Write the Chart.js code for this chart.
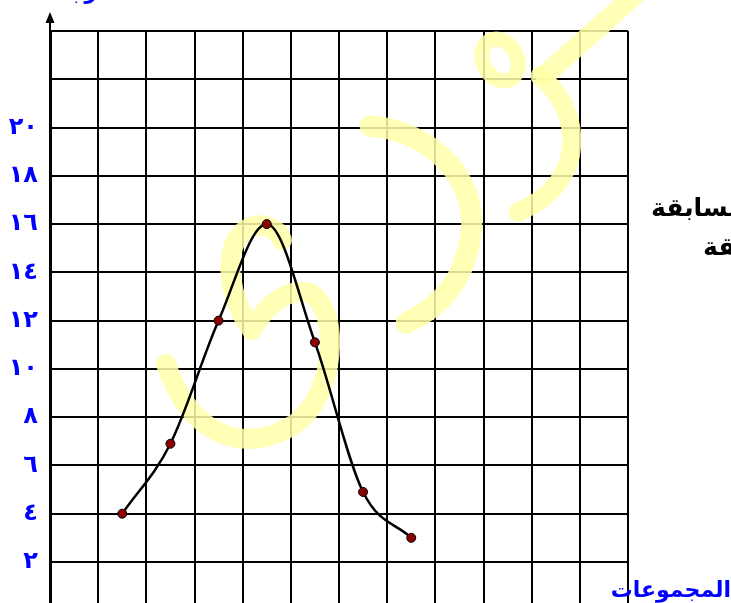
<!DOCTYPE html>
<html lang="ar">
<head>
<meta charset="utf-8">
<script src="https://cdn.jsdelivr.net/npm/chart.js@4"></script>
<style>
  html, body { margin: 0; padding: 0; background: #fff; overflow: hidden; }
  #wrap { width: 731px; height: 603px; }
</style>
</head>
<body>
<div id="wrap"><canvas id="chart" width="731" height="603"></canvas></div>
<script>
// data
const groupPos = [1.5, 2.5, 3.5, 4.5, 5.5, 6.5, 7.5];
const groupValues = [4, 6.9, 12, 16, 11.1, 4.9, 3];
const yTicks = [2, 4, 6, 8, 10, 12, 14, 16, 18, 20, 22, 24];
const yLabels = ["٢", "٤", "٦", "٨", "١٠", "١٢", "١٤", "١٦", "١٨", "٢٠", "", ""];
const xLines = [0, 1, 2, 3, 4, 5, 6, 7, 8, 9, 10, 11, 12];

const blue = "#0000ff";

// pale yellow watermark, over the grid but under the line
const watermark = {
  id: "watermark",
  beforeDatasetsDraw(chart) {
    const ctx = chart.ctx;
    ctx.save();
    ctx.strokeStyle = "rgba(255,255,168,0.85)";
    ctx.lineCap = "round";
    ctx.lineJoin = "round";

    ctx.lineWidth = 20;
    ctx.beginPath();
    ctx.moveTo(166, 364);
    ctx.bezierCurveTo(188, 432, 242, 458, 295, 424);
    ctx.bezierCurveTo(335, 395, 342, 312, 310, 293);
    ctx.bezierCurveTo(282, 285, 258, 318, 252, 330);
    ctx.bezierCurveTo(230, 300, 220, 250, 245, 230);
    ctx.bezierCurveTo(262, 220, 278, 228, 282, 240);
    ctx.stroke();

    ctx.lineWidth = 21;
    ctx.beginPath();
    ctx.moveTo(370, 126);
    ctx.bezierCurveTo(430, 130, 482, 180, 470, 240);
    ctx.bezierCurveTo(462, 290, 430, 312, 406, 323);
    ctx.stroke();

    ctx.lineWidth = 20;
    ctx.beginPath();
    ctx.moveTo(636, -6);
    ctx.lineTo(545, 75);
    ctx.stroke();

    ctx.lineWidth = 15;
    ctx.beginPath();
    ctx.ellipse(500, 60, 17, 22, -0.5, 0, Math.PI * 2);
    ctx.stroke();

    ctx.lineWidth = 19;
    ctx.beginPath();
    ctx.moveTo(540, 76);
    ctx.bezierCurveTo(582, 110, 590, 182, 518, 212);
    ctx.stroke();
    ctx.restore();
  }
};

// arrow on the vertical axis and the cut texts
const extras = {
  id: "extras",
  afterDraw(chart) {
    const ctx = chart.ctx;
    const x0 = chart.scales.x.getPixelForValue(0);
    const top = chart.chartArea.top;
    ctx.save();
    ctx.strokeStyle = "#000";
    ctx.fillStyle = "#000";
    ctx.lineWidth = 2;
    ctx.beginPath();
    ctx.moveTo(x0, top);
    ctx.lineTo(x0, 20);
    ctx.stroke();
    ctx.beginPath();
    ctx.moveTo(x0, 12);
    ctx.lineTo(x0 - 4.5, 23);
    ctx.lineTo(x0 + 4.5, 23);
    ctx.closePath();
    ctx.fill();

    ctx.font = "bold 25px 'DejaVu Sans'";
    ctx.textAlign = "left";
    ctx.textBaseline = "alphabetic";
    ctx.fillText("المسابقة", 651, 216);
    ctx.fillText("الطريقة", 703, 255);

    ctx.fillStyle = blue;
    ctx.font = "bold 22px 'DejaVu Sans'";
    ctx.textAlign = "right";
    ctx.fillText("المجموعات", 731, 597);
    ctx.textAlign = "center";
    ctx.fillText("الدرجات", 82, -1);
    ctx.restore();
  }
};

new Chart(document.getElementById("chart"), {
  type: "line",
  data: {
    datasets: [{
      data: groupPos.map((x, i) => ({ x: x, y: groupValues[i] })),
      borderColor: "#000",
      borderWidth: 2.5,
      cubicInterpolationMode: "monotone",
      pointRadius: 4.5,
      pointBackgroundColor: "#8b0000",
      pointBorderColor: "#000",
      pointBorderWidth: 1,
      fill: false
    }]
  },
  options: {
    responsive: false,
    animation: false,
    devicePixelRatio: 1,
    layout: { autoPadding: false, padding: { top: 31, right: 103, bottom: 0, left: 0 } },
    plugins: { legend: { display: false }, tooltip: { enabled: false } },
    scales: {
      x: {
        type: "linear",
        min: 0,
        max: 12,
        afterBuildTicks: (s) => { s.ticks = xLines.map(v => ({ value: v })); },
        ticks: { display: false },
        grid: { color: "#000", lineWidth: 2, drawTicks: false },
        border: { display: false },
        afterFit: (s) => { s.height = 0; s.paddingLeft = 0; s.paddingRight = 0; }
      },
      y: {
        min: 0.3,
        max: 24,
        afterBuildTicks: (s) => { s.ticks = yTicks.map(v => ({ value: v })); },
        ticks: {
          color: blue,
          padding: 12,
          font: { family: "DejaVu Sans", size: 24, weight: "bold" },
          callback: (v) => yLabels[yTicks.indexOf(v)]
        },
        grid: { color: "#000", lineWidth: 2, drawTicks: false },
        border: { display: true, color: "#000", width: 3 },
        afterFit: (s) => { s.width = 50; s.paddingTop = 0; s.paddingBottom = 0; }
      }
    }
  },
  plugins: [watermark, extras]
});
</script>
</body>
</html>
